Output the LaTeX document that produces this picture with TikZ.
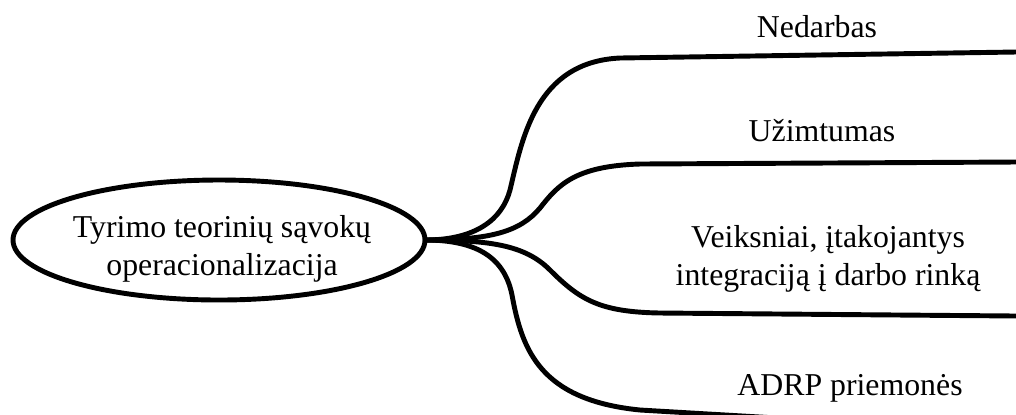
\documentclass[tikz,border=0pt]{standalone}
\usepackage{fontspec}
\setmainfont{Liberation Serif}
\begin{document}
\begin{tikzpicture}[x=0.02cm, y=-0.02cm,
    branch/.style={line width=2.8pt},
    label/.style={font=\fontsize{18.1}{21.5}\selectfont, align=center, inner sep=0pt}]
  \useasboundingbox (0,0) rectangle (1016,414);
  \clip (0,0) rectangle (1016,414);
  % central ellipse
  \coordinate (ctr) at (219,240);
  \draw[branch] (ctr) ellipse [x radius=206, y radius=60];
  \node[label] (root) at (222,248.5) {Tyrimo teorinių sąvokų\\operacionalizacija};
  \coordinate (trunk) at (425,240);
  % line ends on the right
  \coordinate (end1) at (1016,52);
  \coordinate (end2) at (1016,162);
  \coordinate (end3) at (1016,316);
  \coordinate (end4) at (1016,432);
  % branches
  \draw[branch] (trunk) .. controls (475,240) and (502,220) .. (510,190)
    .. controls (522,140) and (535,62) .. (620,58) -- (end1);
  \draw[branch] (trunk) .. controls (490,240) and (520,232) .. (540,208)
    .. controls (558,185) and (575,166) .. (640,164) -- (end2);
  \draw[branch] (trunk) .. controls (490,240) and (525,245) .. (550,270)
    .. controls (580,300) and (600,312) .. (660,313) -- (end3);
  \draw[branch] (trunk) .. controls (480,240) and (505,260) .. (512,295)
    .. controls (522,350) and (540,400) .. (640,410) -- (end4);
  % branch labels
  \node[label, anchor=base] (nedarbas) at (817,37) {Nedarbas};
  \node[label, anchor=base] (uzimtumas) at (822,141) {Užimtumas};
  \node[label] (veiksniai) at (828,258.5) {Veiksniai, įtakojantys\\integraciją į darbo rinką};
  \node[label, anchor=base] (adrp) at (850,395) {ADRP priemonės};
\end{tikzpicture}
\end{document}
